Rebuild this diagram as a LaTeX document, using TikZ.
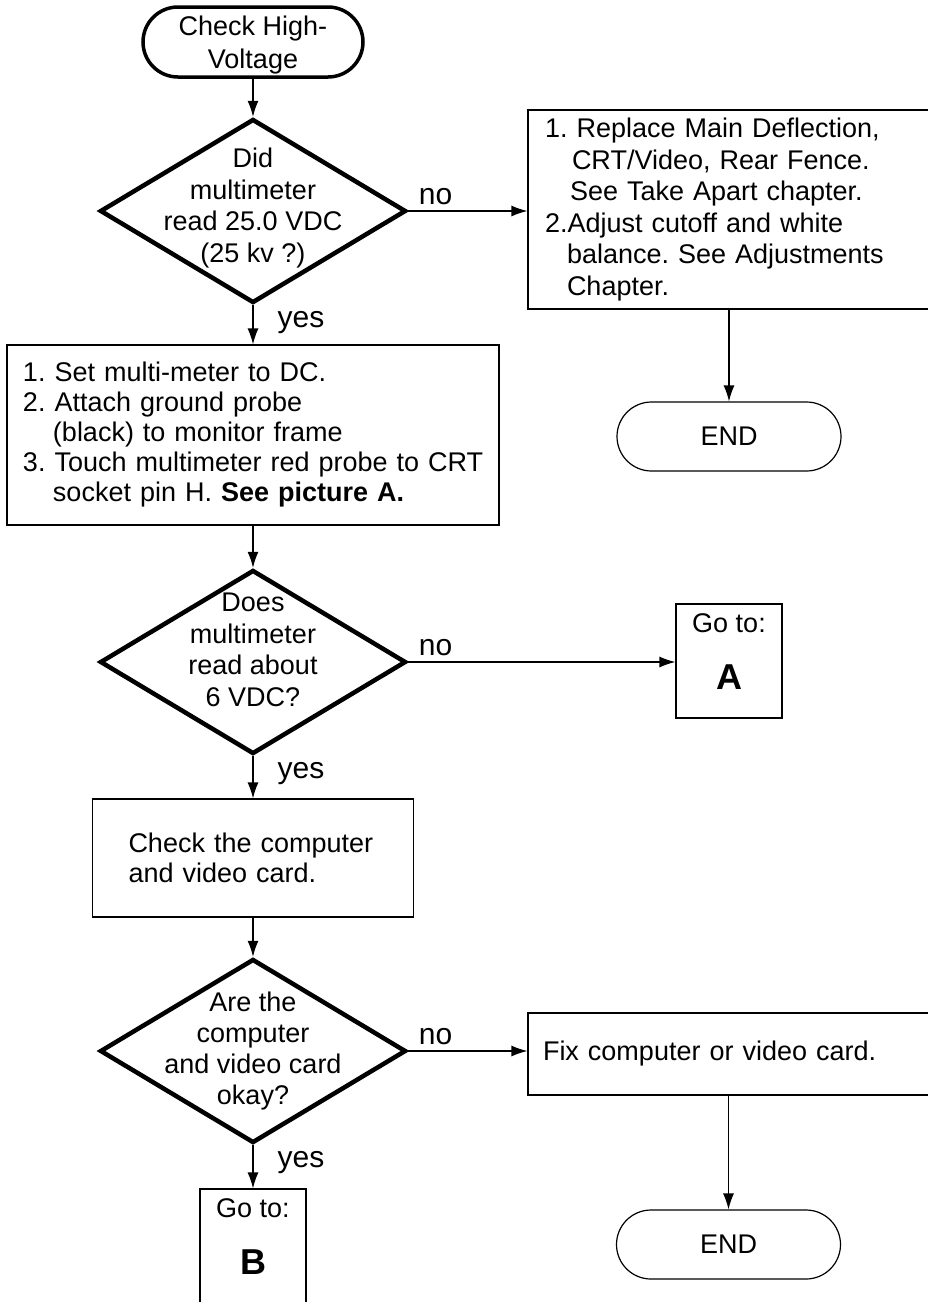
\documentclass[tikz,border=0pt]{standalone}
\usepackage{fontspec}
\setmainfont{Liberation Sans}
\usetikzlibrary{arrows.meta,shapes.geometric,shapes.misc}
\frenchspacing

\begin{document}
\begin{tikzpicture}[x=1pt,y=-1pt,>={Latex[length=16pt,width=11pt]},
        font=\fontsize{27}{31.5}\selectfont,
        terminal/.style={draw,rounded rectangle,minimum width=224pt,minimum height=69pt,align=center,inner sep=0pt,line width=1.2pt},
        decision/.style={draw,diamond,minimum width=306pt,minimum height=184pt,inner sep=0pt,line width=4.5pt},
        procbox/.style={draw,rectangle,align=left,inner ysep=0pt,line width=1.2pt},
        gotobox/.style={draw,rectangle,minimum width=106pt,minimum height=114pt,align=center,inner sep=0pt,text depth=19pt,line width=1.2pt},
        flow/.style={->,line width=1.2pt},
        lbl/.style={font=\fontsize{30}{34}\selectfont,inner sep=0pt,anchor=base west}]
        \useasboundingbox (0,0) rectangle (928,1302);

        \node[terminal,line width=3.5pt,minimum width=220pt,minimum height=70pt,text depth=0pt] (start) at (253,42) {Check High-\\[2pt]Voltage};

        \node[decision] (d1) at (253,211) {};
        \node[align=center] (d1t) at ([yshift=3pt]d1.center) {Did\\multimeter\\read 25.0 VDC\\(25 kv ?)};
        \node[procbox,text width=383pt,inner xsep=17pt,minimum height=199pt] (b1) at (736.5,209.5) {1. Replace Main Deflection,\\
            \hspace*{27pt}CRT/Video, Rear Fence.\\
            \hspace*{25pt}See Take Apart chapter.\\
            2.Adjust cutoff and white\\
            \hspace*{22pt}balance. See Adjustments\\
            \hspace*{22pt}Chapter.};
        \node[terminal] (end1) at (729,436.5) {END};

        \node[procbox,text width=460pt,inner xsep=16pt,minimum height=180pt,font=\fontsize{27}{30}\selectfont] (b2) at (253,435) {1. Set multi-meter to DC.\\
            2. Attach ground probe\\
            \hspace*{30pt}(black) to monitor frame\\
            \mbox{3. Touch multimeter red probe to CRT}\\
            \hspace*{30pt}socket pin H. \textbf{See picture A.}};

        \node[decision] (d2) at (253,662) {};
        \node[align=center] (d2t) at ([yshift=12pt]d2.center) {Does\\multimeter\\read about\\6 VDC?};
        \node[gotobox] (goA) at (729,661) {Go to:\\[25.5pt]{\fontsize{36}{40}\selectfont\bfseries A}};

        \node[procbox,text width=249pt,inner xsep=36pt,minimum height=118pt,font=\fontsize{27}{30}\selectfont] (b3) at (253,858) {Check the computer\\and video card.};

        \node[decision] (d3) at (253,1051) {};
        \node[align=center,font=\fontsize{27}{30.7}\selectfont] (d3t) at (d3.center) {Are the\\computer\\and video card\\okay?};
        \node[procbox,text width=387pt,inner xsep=15pt,minimum height=82pt] (b4) at (736.5,1054) {Fix computer or video card.};
        \node[terminal] (end2) at (728.5,1244.5) {END};
        \node[gotobox] (goB) at (253,1246) {Go to:\\[25.5pt]{\fontsize{36}{40}\selectfont\bfseries B}};

        \draw[flow] (start.south) -- (d1.north);
        \draw[flow] (d1.east) -- node[lbl,pos=0,xshift=10pt,yshift=7pt] {no} (d1.east -| b1.west);
        \draw[flow] (b1.south -| end1.north) -- (end1.north);
        \draw[flow] (d1.south) -- node[lbl,pos=0,xshift=24pt,yshift=-22pt] {yes} (b2.north);
        \draw[flow] (b2.south) -- (d2.north);
        \draw[flow] (d2.east) -- node[lbl,pos=0,xshift=10pt,yshift=7pt] {no} (d2.east -| goA.west);
        \draw[flow] (d2.south) -- node[lbl,pos=0,xshift=24pt,yshift=-22pt] {yes} (b3.north);
        \draw[flow] (b3.south) -- (d3.north);
        \draw[flow] (d3.east) -- node[lbl,pos=0,xshift=10pt,yshift=7pt] {no} (d3.east -| b4.west);
        \draw[flow] (b4.south -| end2.north) -- (end2.north);
        \draw[flow] (d3.south) -- node[lbl,pos=0,xshift=24pt,yshift=-22pt] {yes} (goB.north);
\end{tikzpicture}
\end{document}
